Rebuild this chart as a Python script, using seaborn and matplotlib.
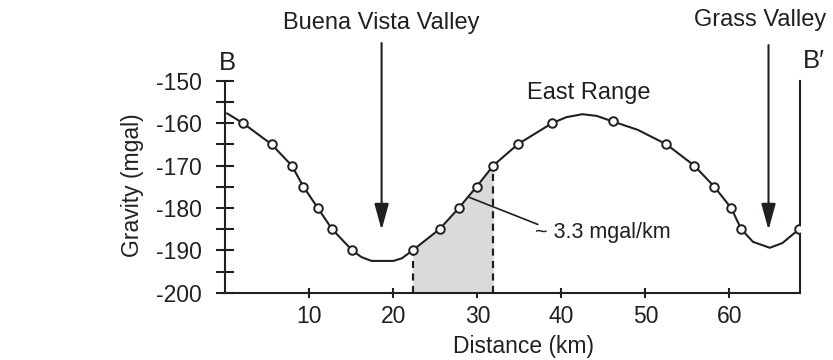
import numpy as np
import pandas as pd
import matplotlib
matplotlib.use("Agg")
import matplotlib.pyplot as plt
import seaborn as sns

# ---- data ----
# measured gravity stations (open circles)
station_km = [2.1, 5.5, 7.9, 9.3, 11.0, 12.7, 15.1, 22.3, 25.5, 27.8, 29.9,
              31.9, 34.8, 38.9, 46.1, 52.5, 55.8, 58.2, 60.2, 61.4, 68.3]
station_mgal = [-160.0, -165.0, -170.0, -175.0, -180.0, -185.0, -190.0, -190.0,
                -185.0, -180.0, -175.0, -170.0, -165.0, -160.0, -159.6, -165.0,
                -170.0, -175.0, -180.0, -185.0, -185.0]
# interpolated profile vertices (smooth curve drawn through the stations)
curve_km = [0.2, 2.1, 5.5, 7.9, 9.3, 11.0, 12.7, 15.1, 16.2, 17.4, 20.0, 21.0,
            22.3, 25.5, 27.8, 29.9, 31.9, 34.8, 38.9, 40.6, 42.5, 44.2, 46.1,
            49.1, 52.5, 55.8, 58.2, 60.2, 61.4, 62.8, 64.8, 66.3, 68.3]
curve_mgal = [-157.7, -160.0, -165.0, -170.0, -175.0, -180.0, -185.0, -190.0,
              -191.6, -192.5, -192.5, -191.9, -190.0, -185.0, -180.0, -175.0,
              -170.0, -165.0, -160.0, -158.6, -157.9, -158.3, -159.6, -161.6,
              -165.0, -170.0, -175.0, -180.0, -185.0, -188.0, -189.4, -188.3,
              -185.0]
# steepest-gradient window (shaded)
gradient_window_km = [22.3, 31.9]
gradient_label = "~ 3.3 mgal/km"
valley_names = ["Buena Vista Valley", "Grass Valley"]
valley_km = [18.6, 64.65]
x_ticks = [10, 20, 30, 40, 50, 60]
y_ticks = [-200, -190, -180, -170, -160, -150]
y_minor_ticks = [-195, -185, -175, -165, -155]

curve = pd.DataFrame({"km": curve_km, "mgal": curve_mgal})
stations = pd.DataFrame({"km": station_km, "mgal": station_mgal})

# ---- style ----
sns.set_theme(style="white")
plt.rcParams["font.family"] = ["Liberation Sans", "DejaVu Sans"]
INK = "#231f20"

fig = plt.figure(figsize=(8.33, 3.6), dpi=100)
ax = fig.add_axes([0.2705, 0.1869, 0.6899, 0.5889])

# shaded gradient window under the curve
xs = np.linspace(gradient_window_km[0], gradient_window_km[1], 100)
ys = np.interp(xs, curve["km"], curve["mgal"])
ax.fill_between(xs, -200, ys, color="#d9dadb", linewidth=0, zorder=1)
for xv in gradient_window_km:
    ax.plot([xv, xv], [-200, np.interp(xv, curve["km"], curve["mgal"])],
            color=INK, lw=1.6, ls=(0, (3.2, 2.4)), zorder=2)

sns.lineplot(data=curve, x="km", y="mgal", sort=False, estimator=None,
             color=INK, lw=1.5, ax=ax, zorder=3)
sns.scatterplot(data=stations, x="km", y="mgal", marker="o", s=38,
                facecolor="white", edgecolor=INK, linewidth=1.4,
                ax=ax, zorder=4)

ax.set_xlim(0, 68.4)
ax.set_ylim(-200, -150)

# spines
for side in ["left", "right", "bottom"]:
    ax.spines[side].set_visible(True)
    ax.spines[side].set_color(INK)
    ax.spines[side].set_linewidth(1.5)
ax.spines["top"].set_visible(False)

ax.set_xticks(x_ticks)
ax.set_yticks(y_ticks)
ax.set_yticks(y_minor_ticks, minor=True)
ax.set_yticklabels([str(v) for v in y_ticks])
ax.tick_params(axis="y", which="both", direction="inout", length=13, width=1.5,
               color=INK, labelsize=16.5, pad=10.5, left=True, right=False,
               labelcolor=INK)
ax.tick_params(axis="x", which="major", direction="inout", length=7.5, width=1.5,
               color=INK, labelsize=16.5, pad=5, bottom=True, labelcolor=INK)

ax.set_xlabel("Distance (km)", fontsize=16.5, color=INK)
ax.set_ylabel("Gravity (mgal)", fontsize=16.5, color=INK)
ax.xaxis.label.set_va("center")
ax.yaxis.label.set_va("center")
ax.xaxis.set_label_coords(0.518, -0.256)
ax.yaxis.set_label_coords(-0.162, 0.508)

# annotations
arrow_style = dict(arrowstyle="-|>,head_length=0.8,head_width=0.22",
                   mutation_scale=20, color=INK, lw=1.5,
                   shrinkA=0, shrinkB=0)
for name, xv, ytop in zip(valley_names, valley_km, [-141.1, -141.6]):
    ax.annotate("", xy=(xv, -185.2), xytext=(xv, ytop),
                arrowprops=arrow_style, annotation_clip=False)
txt_x = [18.57, 63.6]
for name, tx, ty in zip(valley_names, txt_x, [-136.3, -135.7]):
    ax.text(tx, ty, name, ha="center", va="center", fontsize=17,
            color=INK, clip_on=False)

ax.text(0.26, -145.8, "B", ha="center", va="center", fontsize=18.5,
        color=INK, clip_on=False)
ax.text(70.1, -145.4, "B\u2032", ha="center", va="center", fontsize=18.5,
        color=INK, clip_on=False)
ax.text(43.3, -152.8, "East Range", ha="center", va="center", fontsize=17,
        color=INK, clip_on=False)

ax.plot([28.9, 37.2], [-177.4, -183.9], color=INK, lw=1.2, zorder=5)
ax.text(36.8, -185.9, gradient_label, ha="left", va="center", fontsize=15.5,
        color=INK)

fig.savefig("out.png", dpi=100)
